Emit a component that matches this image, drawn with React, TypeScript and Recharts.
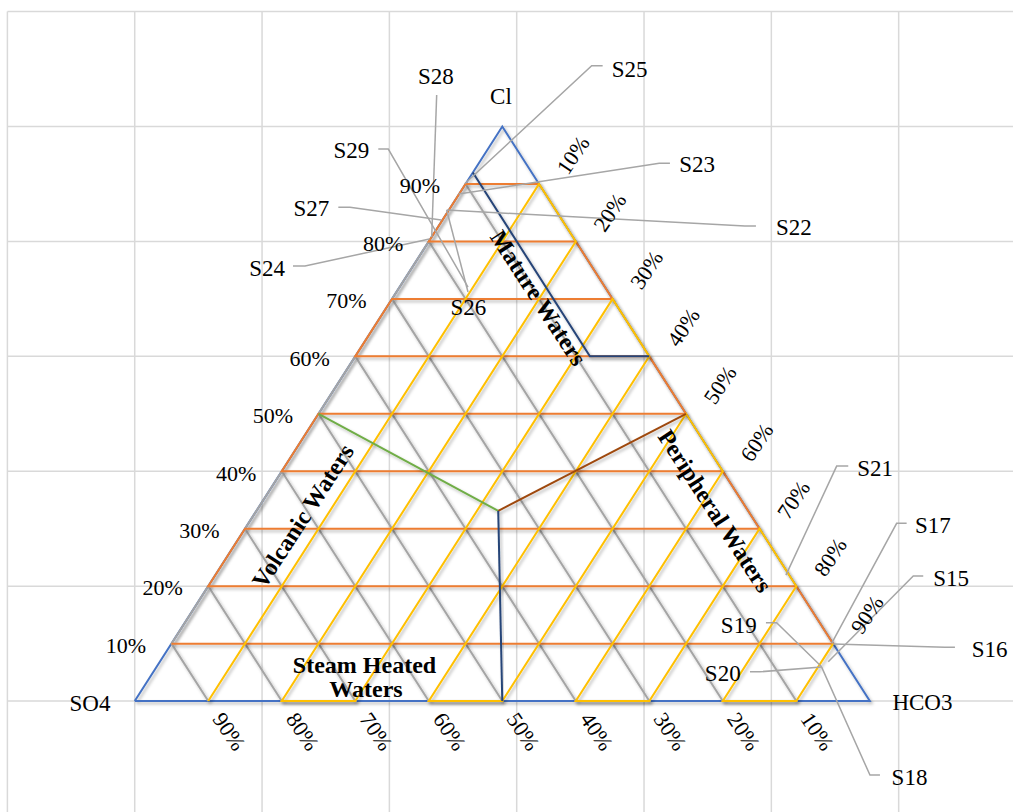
import React from 'react';
import { ScatterChart, Scatter, XAxis, YAxis, CartesianGrid } from 'recharts';

// ---- axis / grid ----
const gridTicksX = [-20, 0, 20, 40, 60, 80, 100, 120, 140];
const gridTicksY = [-20, 0, 20, 40, 60, 80, 100, 120];

// ---- triangle (height 100, base length W) ----
const W = 115.47;
const meshSteps = [1, 2, 3, 4, 5, 6, 7, 8, 9];
const leftPctLabels = ['10%', '20%', '30%', '40%', '50%', '60%', '70%', '80%', '90%'];
const rightPctLabels = ['90%', '80%', '70%', '60%', '50%', '40%', '30%', '20%', '10%']; // at heights 10..90
const bottomPctLabels = ['90%', '80%', '70%', '60%', '50%', '40%', '30%', '20%', '10%']; // at base 1..9
const cornerNames = ['Cl', 'SO4', 'HCO3'];

// ---- classification boundaries (chart units) ----
const junction = { x: 57.1, y: 33.1 };
const matureStart = 0.92; // fraction of height on left side
const matureCorner = { x: 71.5, y: 60 };
const matureEnd = 0.6; // fraction of height on right side

// ---- samples ----
const sampleNames = ['S15', 'S16', 'S17', 'S18', 'S19', 'S20', 'S21', 'S22', 'S23', 'S24', 'S25', 'S26', 'S27', 'S28', 'S29'];
const sampleX = [108.94, 109.72, 109.47, 107.9, 107.9, 107.9, 102.29, 49.0, 50.86, 46.3, 51.88, 49.0, 48.15, 46.65, 52.35];
const sampleY = [6.84, 9.92, 10.04, 5.92, 5.97, 5.92, 21.93, 85.47, 88.25, 80.42, 90.08, 85.47, 83.72, 80.77, 72.06];

// ---- label layout (chart units): text baseline position, anchor, leader start/elbow ----
const labelLayout = [
  { tx: 125.43, ty: 20.02, a: 'start', lead: [[123.86, 21.76], [122.29, 21.76]] },
  { tx: 131.46, ty: 7.71, a: 'start', lead: [[128.84, 9.35], [127.27, 9.35]] },
  { tx: 122.55, ty: 29.24, a: 'start', lead: [[121.25, 30.93], [119.68, 30.93]] },
  { tx: 118.89, ty: -14.62, a: 'start', lead: [[117.06, -12.88], [115.49, -12.88]] },
  { tx: 97.69, ty: 11.78, a: 'end', lead: [[99.15, 13.63], [100.83, 13.63]] },
  { tx: 95.18, ty: 3.53, a: 'end', lead: [[96.64, 5.1], [98.21, 5.1]] },
  { tx: 113.49, ty: 39.22, a: 'start', lead: [[112.08, 40.9], [110.26, 40.9]] },
  { tx: 100.72, ty: 81.11, a: 'start', lead: [[97.58, 82.68], [95.85, 82.68]] },
  { tx: 85.53, ty: 92.13, a: 'start', lead: [[84.07, 93.6], [82.39, 93.6]] },
  { tx: 23.6, ty: 73.98, a: 'end', lead: [[24.86, 75.72], [26.75, 75.72]] },
  { tx: 74.92, ty: 108.7, a: 'start', lead: [[73.5, 110.58], [71.78, 110.58]] },
  { tx: 52.4, ty: 67.19, a: 'middle', lead: [[52.35, 71.19]] },
  { tx: 30.56, ty: 84.42, a: 'end', lead: [[31.98, 85.94], [33.81, 85.94]] },
  { tx: 47.32, ty: 107.4, a: 'middle', lead: [[47.43, 105.48]] },
  { tx: 36.85, ty: 94.46, a: 'end', lead: [[38.26, 96.08], [39.83, 96.08]] },
];

const regionLabels = [
  { x: 63.42, y: 70.15, text: 'Mature Waters', rot: 57 },
  { x: 91.14, y: 33.07, text: 'Peripheral Waters', rot: 57 },
  { x: 26.43, y: 32.2, text: 'Volcanic Waters', rot: -57 },
  { x: 36.09, y: 4.87, text: 'Steam Heated', rot: 0, baseline: true },
  { x: 36.33, y: 0.7, text: 'Waters', rot: 0, baseline: true },
];

// ---- geometry helpers ----
const Lp = (t: number) => ({ x: (t * W) / 2, y: 100 * t });
const Rp = (t: number) => ({ x: W - (t * W) / 2, y: 100 * t });
const Bp = (f: number) => ({ x: f * W, y: 0 });

const outline = [Bp(0), Lp(1), Bp(1), Bp(0)];
const greyMesh: any[] = [];
const orangeMesh: any[] = [];
const yellowMesh: any[] = [];
meshSteps.forEach((k) => {
  const t = k / 10;
  if (k % 2 === 1) {
    greyMesh.push(Bp(t), Lp(t));
    orangeMesh.push(Lp(t), Rp(t));
    yellowMesh.push(Bp(t), Rp(1 - t));
  } else {
    greyMesh.push(Lp(t), Bp(t));
    orangeMesh.push(Rp(t), Lp(t));
    yellowMesh.push(Rp(1 - t), Bp(t));
  }
});
const greenLine = [Lp(0.5), junction];
const brownLine = [junction, Rp(0.5)];
const navyLine = [junction, Bp(0.5)];
const matureLine = [Lp(matureStart), matureCorner, Rp(matureEnd)];

const FONT = "'Liberation Serif', 'Times New Roman', Times, serif";
const none = () => <g />;

const leftLabelData = meshSteps.map((k, i) => ({ ...Lp(k / 10), label: leftPctLabels[i] }));
const rightLabelData = meshSteps.map((k, i) => ({ ...Rp(k / 10), label: rightPctLabels[i] }));
const bottomLabelData = meshSteps.map((k, i) => ({ ...Bp(k / 10), label: bottomPctLabels[i] }));
const cornerOffsets = [
  { dx: -1.3, dy: -23 },
  { dx: -44.7, dy: 9.5 },
  { dx: 52.6, dy: 9 },
];
const cornerData = [Lp(1), Bp(0), Bp(1)].map((p, i) => ({ ...p, label: cornerNames[i], ...cornerOffsets[i] }));

const sampleLabelData = sampleNames.map((n, i) => ({ x: labelLayout[i].tx, y: labelLayout[i].ty, label: n, a: labelLayout[i].a }));
const leaders = sampleNames.map((n, i) => [
  ...labelLayout[i].lead.map(([x, y]) => ({ x, y })),
  { x: sampleX[i], y: sampleY[i] },
]);
const samplePoints = sampleNames.map((n, i) => ({ x: sampleX[i], y: sampleY[i], name: n }));

const shadow = 'url(#xlshadow)';
const meshLine = (stroke: string) => ({ stroke, strokeWidth: 2, filter: shadow });

export default function App() {
  return (
    <div style={{ position: 'fixed', left: 0, top: 0, width: 1013, height: 812, overflow: 'hidden', background: '#fff' }}>
      <svg width={0} height={0} style={{ position: 'absolute' }}>
        <defs>
          <filter id="xlshadow" x="-20%" y="-20%" width="140%" height="140%">
            <feDropShadow dx="1.8" dy="2.2" stdDeviation="1.4" floodColor="#000" floodOpacity="0.28" />
          </filter>
        </defs>
      </svg>
      <ScatterChart width={1026} height={816} margin={{ top: 11.6, right: 0, bottom: 0, left: 7.4 }}>
        <CartesianGrid stroke="#d9d9d9" strokeWidth={1.5} />
        <XAxis type="number" dataKey="x" domain={[-20, 140]} ticks={gridTicksX} hide allowDataOverflow />
        <YAxis type="number" dataKey="y" domain={[-20, 120]} ticks={gridTicksY} hide allowDataOverflow />

        <Scatter data={outline} line={meshLine('#4472C4')} lineType="joint" shape={none} isAnimationActive={false} />
        <Scatter data={greyMesh} line={meshLine('#A5A5A5')} lineType="joint" shape={none} isAnimationActive={false} />
        <Scatter data={orangeMesh} line={meshLine('#ED7D31')} lineType="joint" shape={none} isAnimationActive={false} />
        <Scatter data={yellowMesh} line={meshLine('#FFC000')} lineType="joint" shape={none} isAnimationActive={false} />
        <Scatter data={greenLine} line={meshLine('#70AD47')} lineType="joint" shape={none} isAnimationActive={false} />
        <Scatter data={brownLine} line={meshLine('#9E480E')} lineType="joint" shape={none} isAnimationActive={false} />
        <Scatter data={navyLine} line={meshLine('#264478')} lineType="joint" shape={none} isAnimationActive={false} />
        <Scatter data={matureLine} line={meshLine('#264478')} lineType="joint" shape={none} isAnimationActive={false} />

        {leaders.map((d, i) => (
          <Scatter key={'ld' + i} data={d} line={{ stroke: '#A6A6A6', strokeWidth: 1.5 }} lineType="joint" shape={none} isAnimationActive={false} />
        ))}
        <Scatter data={samplePoints} shape={none} isAnimationActive={false} />

        <Scatter
          data={sampleLabelData}
          isAnimationActive={false}
          shape={(p: any) => (
            <text x={p.cx} y={p.cy} textAnchor={p.payload.a} fontFamily={FONT} fontSize={23} fill="#000">
              {p.payload.label}
            </text>
          )}
        />
        <Scatter
          data={cornerData}
          isAnimationActive={false}
          shape={(p: any) => (
            <text x={p.cx + p.payload.dx} y={p.cy + p.payload.dy} textAnchor="middle" fontFamily={FONT} fontSize={23} fill="#000">
              {p.payload.label}
            </text>
          )}
        />
        <Scatter
          data={leftLabelData}
          isAnimationActive={false}
          shape={(p: any) => (
            <text x={p.cx - 25.5} y={p.cy + 9.3} textAnchor="end" fontFamily={FONT} fontSize={22} fill="#000">
              {p.payload.label}
            </text>
          )}
        />
        <Scatter
          data={rightLabelData}
          isAnimationActive={false}
          shape={(p: any) => {
            const x = p.cx + 34;
            const y = p.cy - 29;
            return (
              <text x={x} y={y} transform={`rotate(-56 ${x} ${y})`} textAnchor="middle" dominantBaseline="central" fontFamily={FONT} fontSize={22} fill="#000">
                {p.payload.label}
              </text>
            );
          }}
        />
        <Scatter
          data={bottomLabelData}
          isAnimationActive={false}
          shape={(p: any) => {
            const x = p.cx + 21;
            const y = p.cy + 30.5;
            return (
              <text x={x} y={y} transform={`rotate(56 ${x} ${y})`} textAnchor="middle" dominantBaseline="central" fontFamily={FONT} fontSize={22} fill="#000">
                {p.payload.label}
              </text>
            );
          }}
        />
        <Scatter
          data={regionLabels}
          isAnimationActive={false}
          shape={(p: any) => {
            const d = p.payload;
            return (
              <text
                x={p.cx}
                y={p.cy}
                transform={d.rot ? `rotate(${d.rot} ${p.cx} ${p.cy})` : undefined}
                textAnchor="middle"
                dominantBaseline={d.baseline ? 'alphabetic' : 'central'}
                fontFamily={FONT}
                fontSize={24}
                fontWeight="bold"
                fill="#000"
              >
                {d.text}
              </text>
            );
          }}
        />
      </ScatterChart>
    </div>
  );
}
